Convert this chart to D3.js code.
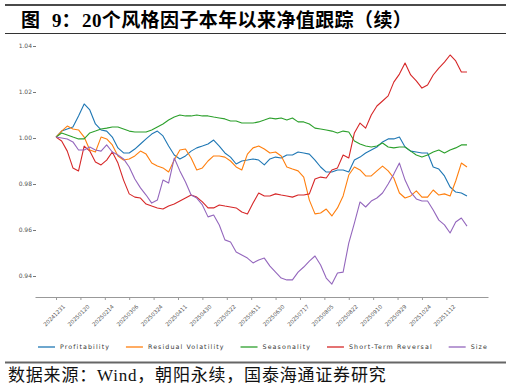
<!DOCTYPE html>
<html>
<head>
<meta charset="utf-8">
<script src="https://cdn.jsdelivr.net/npm/d3@7"></script>
<style>
body { margin: 0; background: #fff; }
</style>
</head>
<body>
<svg id="chart" width="512" height="386"></svg>
<script>
// Data (net value per factor, sampled every 3 trading days from 20241231)
const days = d3.range(0, 220, 3);

const tickDays = [0, 13, 26, 39, 52, 65, 78, 91, 104, 117, 130, 143, 156, 169, 182, 195, 208];
const tickLabels = ["20241231", "20250120", "20250214", "20250306", "20250324", "20250411", "20250430",
  "20250522", "20250611", "20250630", "20250717", "20250805", "20250822", "20250910", "20250929",
  "20251024", "20251112"];
const yTicks = [0.94, 0.96, 0.98, 1.00, 1.02, 1.04];

const seriesNames = ["Profitability", "Residual Volatility", "Seasonality", "Short-Term Reversal", "Size"];
const colors = ["#1f77b4", "#ff7f0e", "#2ca02c", "#d62728", "#9467bd"];

const profitability = [1.0004, 1.0030, 1.0039, 1.0048, 1.0096, 1.0148, 1.0122, 1.0061, 1.0035, 1.0030,
  1.0004, 0.9957, 0.9935, 0.9935, 0.9952, 0.9974, 0.9996, 1.0017, 1.0030, 1.0009,
  0.9965, 0.9926, 0.9909, 0.9922, 0.9943, 0.9957, 0.9965, 0.9974, 0.9991, 0.9965,
  0.9935, 0.9917, 0.9887, 0.9900, 0.9904, 0.9909, 0.9904, 0.9883, 0.9909, 0.9917,
  0.9913, 0.9926, 0.9926, 0.9939, 0.9935, 0.9930, 0.9904, 0.9874, 0.9852, 0.9852,
  0.9861, 0.9861, 0.9852, 0.9904, 0.9917, 0.9935, 0.9948, 0.9961, 0.9983, 0.9996,
  0.9996, 1.0004, 0.9961, 0.9943, 0.9939, 0.9935, 0.9935, 0.9874, 0.9865, 0.9835,
  0.9787, 0.9765, 0.9761, 0.9748];

const residualVol = [1.0004, 1.0030, 1.0052, 1.0039, 1.0035, 1.0004, 0.9948, 0.9939, 1.0004, 0.9996,
  0.9970, 0.9922, 0.9904, 0.9909, 0.9922, 0.9943, 0.9930, 0.9891, 0.9878, 0.9870,
  0.9852, 0.9904, 0.9948, 0.9952, 0.9913, 0.9861, 0.9870, 0.9900, 0.9922, 0.9922,
  0.9917, 0.9900, 0.9874, 0.9861, 0.9930, 0.9957, 0.9965, 0.9952, 0.9935, 0.9939,
  0.9922, 0.9874, 0.9865, 0.9857, 0.9830, 0.9730, 0.9670, 0.9674, 0.9691, 0.9661,
  0.9696, 0.9748, 0.9839, 0.9874, 0.9861, 0.9835, 0.9835, 0.9857, 0.9878, 0.9857,
  0.9826, 0.9761, 0.9739, 0.9748, 0.9770, 0.9743, 0.9743, 0.9774, 0.9752, 0.9757,
  0.9748, 0.9813, 0.9891, 0.9874];

const seasonality = [1.0004, 1.0022, 1.0013, 1.0004, 0.9996, 0.9996, 1.0022, 1.0030, 1.0039, 1.0043,
  1.0048, 1.0048, 1.0039, 1.0030, 1.0026, 1.0026, 1.0026, 1.0035, 1.0048, 1.0061,
  1.0078, 1.0091, 1.0100, 1.0096, 1.0096, 1.0100, 1.0096, 1.0096, 1.0091, 1.0087,
  1.0083, 1.0074, 1.0074, 1.0065, 1.0065, 1.0065, 1.0070, 1.0078, 1.0087, 1.0083,
  1.0087, 1.0078, 1.0087, 1.0070, 1.0070, 1.0061, 1.0043, 1.0039, 1.0035, 1.0030,
  1.0022, 1.0030, 1.0026, 0.9987, 0.9974, 0.9965, 0.9961, 0.9965, 0.9978, 0.9961,
  0.9957, 0.9961, 0.9961, 0.9943, 0.9926, 0.9917, 0.9926, 0.9939, 0.9948, 0.9935,
  0.9948, 0.9957, 0.9970, 0.9970];

const shortTermRev = [1.0004, 0.9987, 0.9943, 0.9870, 0.9857, 0.9965, 0.9943, 0.9896, 0.9883, 0.9904,
  0.9939, 0.9891, 0.9817, 0.9757, 0.9743, 0.9739, 0.9713, 0.9704, 0.9696, 0.9691,
  0.9704, 0.9713, 0.9726, 0.9739, 0.9752, 0.9743, 0.9722, 0.9696, 0.9696, 0.9709,
  0.9704, 0.9700, 0.9696, 0.9678, 0.9670, 0.9717, 0.9761, 0.9748, 0.9748, 0.9757,
  0.9752, 0.9748, 0.9743, 0.9752, 0.9752, 0.9757, 0.9822, 0.9830, 0.9826, 0.9861,
  0.9870, 0.9926, 0.9913, 1.0022, 1.0065, 1.0043, 1.0100, 1.0139, 1.0161, 1.0183,
  1.0243, 1.0278, 1.0326, 1.0274, 1.0248, 1.0217, 1.0230, 1.0274, 1.0304, 1.0330,
  1.0361, 1.0335, 1.0287, 1.0287];

const size = [1.0004, 1.0000, 0.9996, 0.9983, 0.9948, 0.9948, 0.9961, 0.9948, 0.9943, 0.9970,
  0.9939, 0.9926, 0.9909, 0.9874, 0.9822, 0.9783, 0.9752, 0.9717, 0.9730, 0.9817,
  0.9804, 0.9913, 0.9857, 0.9809, 0.9752, 0.9739, 0.9709, 0.9657, 0.9665, 0.9622,
  0.9557, 0.9548, 0.9504, 0.9491, 0.9478, 0.9457, 0.9470, 0.9478, 0.9443, 0.9417,
  0.9391, 0.9383, 0.9383, 0.9417, 0.9439, 0.9465, 0.9487, 0.9448, 0.9391, 0.9365,
  0.9413, 0.9417, 0.9543, 0.9630, 0.9722, 0.9700, 0.9726, 0.9739, 0.9761, 0.9800,
  0.9843, 0.9891, 0.9817, 0.9765, 0.9735, 0.9726, 0.9726, 0.9687, 0.9643, 0.9622,
  0.9587, 0.9635, 0.9652, 0.9617];

const allSeries = [profitability, residualVol, seasonality, shortTermRev, size];

//* Chart code *//

const svg = d3.select("#chart");

// frame lines and texts round the chart
svg.append("line").attr("x1", 5).attr("x2", 506).attr("y1", 5).attr("y2", 5)
    .attr("stroke", "#4a4a4a").attr("stroke-width", 2);
svg.append("line").attr("x1", 5).attr("x2", 506).attr("y1", 33.5).attr("y2", 33.5)
    .attr("stroke", "#333").attr("stroke-width", 1);
svg.append("line").attr("x1", 5).attr("x2", 506).attr("y1", 362.5).attr("y2", 362.5)
    .attr("stroke", "#666").attr("stroke-width", 2);

const titleFont = '"Liberation Serif", "Noto Sans CJK SC", serif';
svg.append("text").attr("x", 21).attr("y", 26.5)
    .attr("font-family", titleFont).attr("font-size", 19).attr("font-weight", 700)
    .text("图");
svg.append("text").attr("x", 52).attr("y", 26.5)
    .attr("font-family", titleFont).attr("font-size", 19).attr("font-weight", 700)
    .text("9：");
svg.append("text").attr("x", 82).attr("y", 26.5)
    .attr("font-family", titleFont).attr("font-size", 19).attr("font-weight", 700)
    .attr("letter-spacing", 0.4)
    .text("20个风格因子本年以来净值跟踪（续）");

svg.append("text").attr("x", 8).attr("y", 381)
    .attr("font-family", titleFont).attr("font-size", 17).attr("letter-spacing", 0.8)
    .attr("fill", "#111")
    .text("数据来源：Wind，朝阳永续，国泰海通证券研究");

// X and Y scales
const x = d3.scaleLinear().domain([-11.2, 230.2]).range([35, 488]);
const y = d3.scaleLinear().domain([0.94, 1.04]).range([276, 46]);

// Axes
const xAxisCall = d3.axisBottom(x)
    .tickValues(tickDays)
    .tickFormat(function(d, i) { return tickLabels[i]; })
    .tickSize(3)
    .tickSizeOuter(0);

const xAxisApp = svg.append("g")
    .attr("class", "x axis")
    .attr("transform", "translate(0,297)")
    .call(xAxisCall);
xAxisApp.select(".domain").attr("stroke", "#999").attr("stroke-width", 1.2);
xAxisApp.selectAll(".tick line").attr("stroke", "#999");
xAxisApp.selectAll("text")
    .attr("x", 0).attr("y", 0).attr("dy", 0)
    .attr("transform", "translate(9,10) rotate(-45)")
    .style("text-anchor", "end")
    .attr("font-family", "DejaVu Sans")
    .attr("font-size", 5.5)
    .attr("fill", "#555");

const yAxisCall = d3.axisLeft(y)
    .tickValues(yTicks)
    .tickFormat(d3.format(".2f"))
    .tickSize(3);

const yAxisApp = svg.append("g")
    .attr("class", "y axis")
    .attr("transform", "translate(36,0)")
    .call(yAxisCall);
yAxisApp.select(".domain").remove();
yAxisApp.selectAll(".tick line").attr("stroke", "#777");
yAxisApp.selectAll("text")
    .attr("x", -4)
    .attr("font-family", "DejaVu Sans")
    .attr("font-size", 6)
    .attr("fill", "#555");

// Lines
const line = d3.line()
    .x(function(d, i) { return x(days[i]); })
    .y(function(d) { return y(d); });

svg.append("g")
    .selectAll("path")
    .data(allSeries)
    .enter().append("path")
    .attr("d", line)
    .attr("fill", "none")
    .attr("stroke", function(d, i) { return colors[i]; })
    .attr("stroke-width", 1.1)
    .attr("stroke-linejoin", "round");

// Legend
const legend = svg.append("g")
    .attr("font-family", "DejaVu Sans")
    .attr("font-size", 6.3)
    .attr("letter-spacing", 1.1);

const items = legend.selectAll("g")
    .data(seriesNames)
    .enter().append("g");

items.append("line")
    .attr("x1", 0).attr("x2", 17)
    .attr("y1", 347).attr("y2", 347)
    .attr("stroke", function(d, i) { return colors[i]; })
    .attr("stroke-width", 1.3);

items.append("text")
    .attr("x", 22).attr("y", 349.3)
    .attr("fill", "#333")
    .text(function(d) { return d; });

// spread legend items between 38 and 488
const widths = [];
items.selectAll("text").each(function() { widths.push(22 + this.getComputedTextLength()); });
const gap = (488 - 38 - d3.sum(widths)) / (widths.length - 1);
let pos = 38;
items.attr("transform", function(d, i) {
    const t = "translate(" + pos + ",0)";
    pos += widths[i] + gap;
    return t;
});
</script>
</body>
</html>
